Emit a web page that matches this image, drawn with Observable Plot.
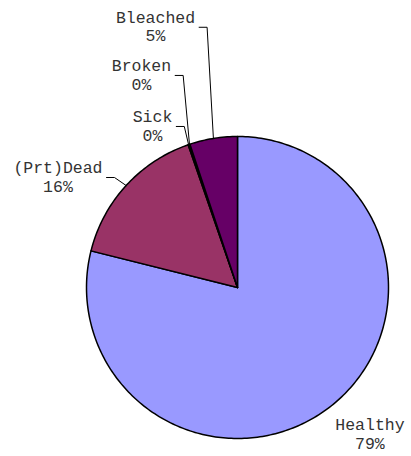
<!DOCTYPE html>
<html>
<head>
<meta charset="utf-8">
<script src="https://cdn.jsdelivr.net/npm/d3@7"></script>
<script src="https://cdn.jsdelivr.net/npm/@observablehq/plot@0.6"></script>
<style>
  html, body { margin: 0; padding: 0; background: #fff; }
</style>
</head>
<body>
<div id="chart"></div>
<script>
// ---- data ----
const categories = ["Healthy", "(Prt)Dead", "Sick", "Broken", "Bleached"];
const values = [78.9, 15.8, 0.1, 0.1, 5.1];
const colors = ["#9999FF", "#993366", "#FFFFCC", "#CCFFFF", "#660066"];

// ---- label layout (in pie-radius units, relative to centre) ----
const labelX = [0.877, -1.189, -0.563, -0.636, -0.543];
const labelY = [-0.967, 0.735, 1.073, 1.411, 1.730];
const hasLeader = [false, true, true, true, true];

const R_PX = 151;           // radius in pixels (set by margins below)
const FONT = 16.5;
const total = d3.sum(values);
const arcs = d3.pie().sort(null).value(d => d)(values);

// slice polygons
const slicePts = [];
arcs.forEach((a, i) => {
  const name = categories[i];
  slicePts.push({name, x: 0, y: 0});
  const n = Math.max(2, Math.ceil((a.endAngle - a.startAngle) / (Math.PI / 180)));
  for (let k = 0; k <= n; k++) {
    const t = a.startAngle + (a.endAngle - a.startAngle) * k / n;
    slicePts.push({name, x: Math.sin(t), y: Math.cos(t)});
  }
  slicePts.push({name, x: 0, y: 0});
});

// labels
const labels = categories.map((c, i) => ({
  name: c,
  text: c + "\n" + Math.round(values[i] / total * 100) + "%",
  x: labelX[i],
  y: labelY[i]
}));

// leader lines
const leaderPts = [];
categories.forEach((c, i) => {
  if (!hasLeader[i]) return;
  const a = arcs[i];
  const mid = (a.startAngle + a.endAngle) / 2;
  const maxChars = Math.max(c.length, labels[i].text.split("\n")[1].length);
  const sx = labelX[i] + (maxChars * FONT * 0.6 / 2 + 4) / R_PX;
  const sy = labelY[i] - 1 / R_PX;
  leaderPts.push({name: c, x: sx, y: sy});
  leaderPts.push({name: c, x: sx + 8 / R_PX, y: sy});
  leaderPts.push({name: c, x: Math.sin(mid), y: Math.cos(mid)});
});

const chart = Plot.plot({
  width: 411,
  height: 456,
  marginLeft: 86,
  marginRight: 23,
  marginTop: 136,
  marginBottom: 18,
  x: {domain: [-1, 1], axis: null},
  y: {domain: [-1, 1], axis: null},
  color: {domain: categories, range: colors},
  style: {fontFamily: "'Liberation Mono', 'Courier New', monospace", background: "#fff", overflow: "visible"},
  marks: [
    Plot.line(slicePts, {x: "x", y: "y", z: "name", fill: "name", stroke: "#000", strokeWidth: 1.5, strokeLinejoin: "round"}),
    Plot.line(leaderPts, {x: "x", y: "y", z: "name", stroke: "#000", strokeWidth: 1}),
    Plot.text(labels, {x: "x", y: "y", text: "text", fontSize: FONT, lineHeight: 1.12, textAnchor: "middle", lineAnchor: "middle", fill: "#333"})
  ]
});
document.getElementById("chart").appendChild(chart);
</script>
</body>
</html>
